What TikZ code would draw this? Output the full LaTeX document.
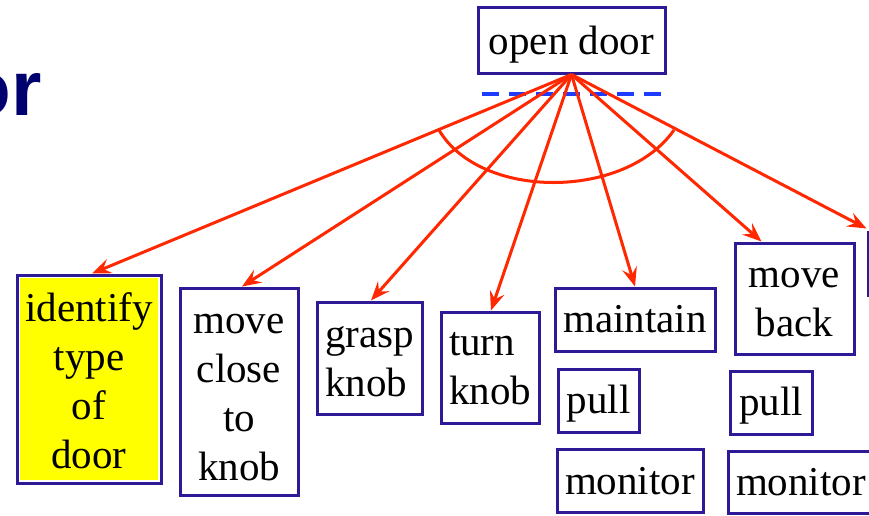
\documentclass[tikz,border=0pt]{standalone}
\usepackage{fontspec}
\setmainfont{Liberation Serif}
\newfontfamily\titlefont{Liberation Sans}
\usetikzlibrary{arrows.meta,calc}
\definecolor{boxblue}{RGB}{46,26,150}
\definecolor{linkred}{RGB}{255,40,0}
\definecolor{dashblue}{RGB}{30,60,255}
\definecolor{titlenavy}{RGB}{0,0,110}
\definecolor{hilite}{RGB}{255,255,0}
\begin{document}
\begin{tikzpicture}[x=1pt,y=-1pt,
  task/.style={draw=boxblue, line width=3pt, fill=white, inner sep=0pt},
  words/.style={inner sep=0pt, align=center, font=\fontsize{41}{49}\selectfont},
  says/.style 2 args={label={[words, yshift=#2]center:{#1}}},
  sayl/.style 2 args={label={[words, align=left, yshift=#2]center:{#1}}},
  marked/.style={path picture={\fill[hilite]
      ([shift={(3pt,3pt)}]path picture bounding box.south west) rectangle
      ([shift={(-3pt,-3pt)}]path picture bounding box.north east);}},
  link/.style={draw=linkred, line width=3pt},
  arr/.style={link, -{Stealth[length=19pt,width=15pt,inset=7pt]}},
]
\useasboundingbox (0,0) rectangle (869,515);
\clip (0,0) rectangle (869,515);

% title fragment
\node[anchor=base east, inner sep=0pt, text=titlenavy,
  font=\titlefont\bfseries\fontsize{78}{90}\selectfont] (title) at (42,115) {or};

% root task
\node[task, minimum width=187pt, minimum height=66pt,
  says={open door}{-5pt}] (od) at (571.5,40) {};

% subtasks
\node[task, marked, minimum width=144pt, minimum height=208pt,
  says={identify\\type\\of\\door}{-2pt}] (id) at (89,379) {};
\node[task, minimum width=118pt, minimum height=207pt,
  says={move\\close\\to\\knob}{-6pt}] (mc) at (239,391.5) {};
\node[task, minimum width=105pt, minimum height=112pt,
  sayl={grasp\\knob}{-4pt}] (gk) at (369.5,358) {};
\node[task, minimum width=98pt, minimum height=111pt,
  sayl={turn\\knob}{-1.5pt}] (tk) at (490,367.5) {};
\node[task, minimum width=160pt, minimum height=63pt,
  says={maintain}{0pt}] (mt) at (635,319.5) {};
\node[task, minimum width=81pt, minimum height=63pt,
  says={pull}{-3pt}] (pl) at (598.5,400.5) {};
\node[task, minimum width=146pt, minimum height=63pt,
  says={monitor}{-1pt}] (mn) at (630,480.5) {};
\node[task, minimum width=119pt, minimum height=111pt,
  says={move\\back}{-4pt}] (mb) at (794.5,298.5) {};
\node[task, minimum width=82pt, minimum height=63pt,
  says={pull}{-3pt}] (pl2) at (771,402.5) {};
\node[task, minimum width=146pt, minimum height=62pt,
  says={monitor}{0pt}] (mn2) at (801,482) {};
\node[task, minimum width=120pt, minimum height=63pt] (nx) at (928,263.5) {};

% dashed guide under the root
\draw[dashblue, line width=3.2pt, dash pattern=on 17pt off 10pt]
  (482,94) -- (665,94);

% decomposition links
\draw[arr] (od.south) -- ([xshift=3pt]id.north);
\draw[arr] (od.south) -- ([xshift=3pt]mc.north);
\draw[arr] (od.south) -- ([xshift=1.5pt]gk.north);
\draw[arr] (od.south) -- ([xshift=1pt]tk.north);
\draw[arr] (od.south) -- (mt.north);
\draw[arr] (od.south) -- ([xshift=28pt]mb.north west);
\draw[arr] (od.south) -- ([yshift=2pt]nx.north west);

% AND arc across the links
\coordinate (arcL) at (439,130);
\coordinate (arcR) at (674,130);
\draw[link] (arcL) .. controls (480,200) and (625,200) .. (arcR);
\end{tikzpicture}
\end{document}
